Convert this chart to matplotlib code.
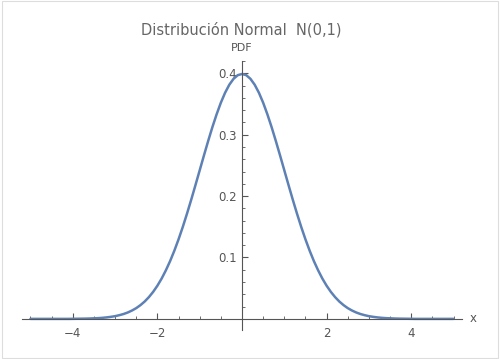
import matplotlib.pyplot as plt
from matplotlib.patches import Rectangle
from matplotlib.ticker import MultipleLocator

# values, x from -5 to 5 in steps of 0.1
x_vals = [-5.0, -4.9, -4.8, -4.7, -4.6, -4.5, -4.4, -4.3, -4.2, -4.1,
          -4.0, -3.9, -3.8, -3.7, -3.6, -3.5, -3.4, -3.3, -3.2, -3.1,
          -3.0, -2.9, -2.8, -2.7, -2.6, -2.5, -2.4, -2.3, -2.2, -2.1,
          -2.0, -1.9, -1.8, -1.7, -1.6, -1.5, -1.4, -1.3, -1.2, -1.1,
          -1.0, -0.9, -0.8, -0.7, -0.6, -0.5, -0.4, -0.3, -0.2, -0.1,
          0.0,
          0.1, 0.2, 0.3, 0.4, 0.5, 0.6, 0.7, 0.8, 0.9, 1.0,
          1.1, 1.2, 1.3, 1.4, 1.5, 1.6, 1.7, 1.8, 1.9, 2.0,
          2.1, 2.2, 2.3, 2.4, 2.5, 2.6, 2.7, 2.8, 2.9, 3.0,
          3.1, 3.2, 3.3, 3.4, 3.5, 3.6, 3.7, 3.8, 3.9, 4.0,
          4.1, 4.2, 4.3, 4.4, 4.5, 4.6, 4.7, 4.8, 4.9, 5.0]
pdf_vals = [0.0000, 0.0000, 0.0000, 0.0000, 0.0000, 0.0000, 0.0000, 0.0000, 0.0000, 0.0000,
            0.0001, 0.0002, 0.0003, 0.0004, 0.0006, 0.0009, 0.0012, 0.0017, 0.0024, 0.0033,
            0.0044, 0.0060, 0.0079, 0.0104, 0.0136, 0.0175, 0.0224, 0.0283, 0.0355, 0.0440,
            0.0540, 0.0656, 0.0790, 0.0940, 0.1109, 0.1295, 0.1497, 0.1714, 0.1942, 0.2179,
            0.2420, 0.2661, 0.2897, 0.3123, 0.3332, 0.3521, 0.3683, 0.3814, 0.3910, 0.3970,
            0.3989,
            0.3970, 0.3910, 0.3814, 0.3683, 0.3521, 0.3332, 0.3123, 0.2897, 0.2661, 0.2420,
            0.2179, 0.1942, 0.1714, 0.1497, 0.1295, 0.1109, 0.0940, 0.0790, 0.0656, 0.0540,
            0.0440, 0.0355, 0.0283, 0.0224, 0.0175, 0.0136, 0.0104, 0.0079, 0.0060, 0.0044,
            0.0033, 0.0024, 0.0017, 0.0012, 0.0009, 0.0006, 0.0004, 0.0003, 0.0002, 0.0001,
            0.0000, 0.0000, 0.0000, 0.0000, 0.0000, 0.0000, 0.0000, 0.0000, 0.0000, 0.0000]
x_ticks = [-4, -2, 2, 4]
y_ticks = [0.1, 0.2, 0.3, 0.4]

grey = '#555555'
fig = plt.figure(figsize=(5, 3.59), dpi=100)
ax = fig.add_axes([0.044, 0.081, 0.880, 0.749])

ax.plot(x_vals, pdf_vals, color='#5E81B5', lw=1.8, solid_capstyle='round',
        solid_joinstyle='round')
ax.set_xlim(-5.2, 5.2)
ax.set_ylim(-0.018, 0.42)

for s in ['top', 'right']:
    ax.spines[s].set_visible(False)
ax.spines['left'].set_position(('data', 0))
ax.spines['bottom'].set_position(('data', 0))
for s in ['left', 'bottom']:
    ax.spines[s].set_color(grey)
    ax.spines[s].set_linewidth(0.8)

ax.set_xticks(x_ticks)
ax.set_yticks(y_ticks)
ax.set_xticklabels([str(t).replace('-', '\u2212') for t in x_ticks])
ax.set_yticklabels([str(t) for t in y_ticks])
ax.xaxis.set_minor_locator(MultipleLocator(0.5))
ax.yaxis.set_minor_locator(MultipleLocator(0.02))
ax.tick_params(which='both', direction='in', color=grey, labelcolor=grey, labelsize=8.5)
ax.tick_params(which='major', length=4, width=0.8)
ax.tick_params(which='minor', length=2.5, width=0.6)
ax.tick_params(axis='x', pad=6)
ax.tick_params(axis='y', pad=4)

ax.text(0, 1.03, 'PDF', transform=ax.get_xaxis_transform(), ha='center', va='bottom',
        fontsize=8, color=grey)
ax.text(1.018, 0, 'x', transform=ax.get_yaxis_transform(), ha='left', va='center',
        fontsize=8.5, color=grey)
fig.text(0.482, 0.918, 'Distribución Normal  N(0,1)', ha='center', va='center',
         fontsize=10.5, color='#666666')

fig.patches.append(Rectangle((0.003, 0.004), 0.992, 0.992, transform=fig.transFigure,
                             fill=False, edgecolor='#dddddd', lw=0.8))

fig.savefig('out.png', dpi=100)
